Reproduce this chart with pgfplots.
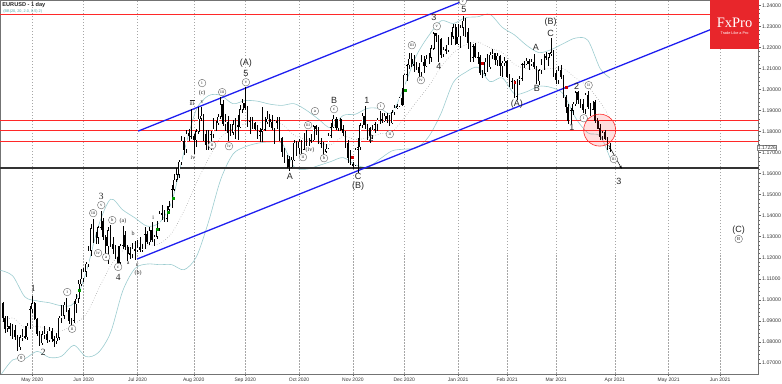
\documentclass[border=0pt]{standalone}
\usepackage{pgfplots}
\pgfplotsset{compat=1.18}
\usepackage{pgfplotstable}
\usetikzlibrary{arrows.meta}
\usepackage{fontspec}
\setmainfont{Liberation Sans}
\newfontfamily\serifA{Liberation Serif}
\definecolor{bandc}{HTML}{9CCCD0}
\definecolor{fxred}{HTML}{E8262B}
\definecolor{chred}{HTML}{FF2828}
\definecolor{chblue}{HTML}{1E1EF0}
\tikzset{
 wl/.style={font=\fontsize{9}{9}\selectfont, inner sep=0pt, text=black!85},
 ws/.style={font=\serifA\fontsize{9.5}{9}\selectfont, inner sep=0pt, text=black!85},
 wsm/.style={font=\serifA\fontsize{6}{6}\selectfont, inner sep=0pt, text=black!85},
 wc/.style={circle, draw=black!60, line width=0.4pt, fill=white, inner sep=0pt, minimum size=7.6pt, font=\serifA\fontsize{4.6}{4}\selectfont, text=black!85},
}
\pgfplotstableread{
d o h l c
-12 1.0985 1.0990 1.0895 1.0913
-11 1.0913 1.0925 1.0840 1.0862
-10 1.0862 1.0925 1.0845 1.0875
-9 1.0875 1.0890 1.0830 1.0862
-8 1.0862 1.0885 1.0815 1.0857
-7 1.0857 1.0880 1.0810 1.0823
-6 1.0823 1.0835 1.0757 1.0775
-5 1.0775 1.0835 1.0760 1.0821
-4 1.0821 1.0860 1.0805 1.0825
-3 1.0825 1.0875 1.0815 1.0823
-2 1.0823 1.0890 1.0810 1.0875
-1 1.0875 1.0973 1.0860 1.0955
0 1.0955 1.1019 1.0935 1.0982
1 1.0982 1.0990 1.0905 1.0909
2 1.0909 1.0915 1.0828 1.0838
3 1.0838 1.0850 1.0782 1.0795
4 1.0795 1.0850 1.0785 1.0835
5 1.0835 1.0875 1.0815 1.0839
6 1.0839 1.0850 1.0795 1.0808
7 1.0808 1.0870 1.0800 1.0852
8 1.0852 1.0865 1.0800 1.0815
9 1.0815 1.0830 1.0775 1.0804
10 1.0804 1.0840 1.0790 1.0820
11 1.0820 1.0925 1.0810 1.0915
12 1.0915 1.0975 1.0890 1.0924
13 1.0924 1.0990 1.0910 1.0975
14 1.0975 1.1008 1.0940 1.0950
15 1.0950 1.0960 1.0885 1.0900
16 1.0900 1.0915 1.0870 1.0900
17 1.0900 1.0995 1.0890 1.0980
18 1.0980 1.1030 1.0935 1.1005
19 1.1005 1.1095 1.0985 1.1075
20 1.1075 1.1145 1.1065 1.1100
21 1.1100 1.1150 1.1085 1.1135
22 1.1135 1.1180 1.1110 1.1170
23 1.1170 1.1255 1.1155 1.1235
24 1.1235 1.1360 1.1210 1.1340
25 1.1340 1.1385 1.1270 1.1290
26 1.1290 1.1320 1.1265 1.1295
27 1.1295 1.1350 1.1265 1.1343
28 1.1343 1.1422 1.1330 1.1375
29 1.1375 1.1390 1.1285 1.1300
30 1.1300 1.1310 1.1200 1.1255
31 1.1255 1.1345 1.1170 1.1330
32 1.1330 1.1355 1.1250 1.1265
33 1.1265 1.1300 1.1220 1.1240
34 1.1240 1.1260 1.1195 1.1205
35 1.1205 1.1255 1.1168 1.1178
36 1.1178 1.1265 1.1170 1.1257
37 1.1257 1.1349 1.1240 1.1308
38 1.1308 1.1325 1.1235 1.1250
39 1.1250 1.1260 1.1185 1.1220
40 1.1220 1.1250 1.1195 1.1218
41 1.1218 1.1270 1.1200 1.1243
42 1.1243 1.1280 1.1190 1.1233
43 1.1233 1.1285 1.1225 1.1250
44 1.1250 1.1300 1.1225 1.1237
45 1.1237 1.1265 1.1225 1.1245
46 1.1245 1.1345 1.1240 1.1310
47 1.1310 1.1325 1.1265 1.1275
48 1.1275 1.1345 1.1260 1.1330
49 1.1330 1.1370 1.1275 1.1285
50 1.1285 1.1310 1.1255 1.1300
51 1.1300 1.1375 1.1290 1.1340
52 1.1340 1.1420 1.1325 1.1410
53 1.1410 1.1452 1.1380 1.1410
54 1.1410 1.1425 1.1370 1.1385
55 1.1385 1.1445 1.1370 1.1428
56 1.1428 1.1470 1.1410 1.1445
57 1.1445 1.1545 1.1435 1.1525
58 1.1525 1.1600 1.1515 1.1570
59 1.1570 1.1625 1.1560 1.1595
60 1.1595 1.1665 1.1580 1.1655
61 1.1655 1.1780 1.1640 1.1755
62 1.1755 1.1775 1.1690 1.1715
63 1.1715 1.1805 1.1700 1.1790
64 1.1790 1.1810 1.1755 1.1780
65 1.1780 1.1908 1.1765 1.1778
66 1.1778 1.1790 1.1695 1.1760
67 1.1760 1.1810 1.1725 1.1800
68 1.1800 1.1915 1.1790 1.1860
69 1.1860 1.1915 1.1850 1.1875
70 1.1875 1.1885 1.1755 1.1785
71 1.1785 1.1805 1.1710 1.1735
72 1.1735 1.1805 1.1710 1.1740
73 1.1740 1.1800 1.1710 1.1785
74 1.1785 1.1865 1.1770 1.1812
75 1.1812 1.1850 1.1800 1.1840
76 1.1840 1.1885 1.1830 1.1870
77 1.1870 1.1966 1.1860 1.1930
78 1.1930 1.1950 1.1825 1.1835
79 1.1835 1.1885 1.1800 1.1845
80 1.1845 1.1875 1.1755 1.1795
81 1.1795 1.1835 1.1780 1.1795
82 1.1795 1.1855 1.1785 1.1835
83 1.1835 1.1865 1.1765 1.1830
84 1.1830 1.1880 1.1760 1.1820
85 1.1820 1.1925 1.1815 1.1905
86 1.1905 1.1955 1.1890 1.1935
87 1.1935 1.2011 1.1900 1.1910
88 1.1910 1.1920 1.1820 1.1850
89 1.1850 1.1870 1.1790 1.1850
90 1.1850 1.1870 1.1810 1.1840
91 1.1840 1.1845 1.1805 1.1815
92 1.1815 1.1830 1.1765 1.1780
93 1.1780 1.1815 1.1750 1.1800
94 1.1800 1.1917 1.1750 1.1810
95 1.1810 1.1870 1.1800 1.1845
96 1.1845 1.1895 1.1835 1.1860
97 1.1860 1.1885 1.1820 1.1845
98 1.1845 1.1880 1.1805 1.1815
99 1.1815 1.1855 1.1740 1.1850
100 1.1850 1.1870 1.1810 1.1840
101 1.1840 1.1870 1.1755 1.1770
102 1.1770 1.1775 1.1680 1.1705
103 1.1705 1.1720 1.1650 1.1660
104 1.1660 1.1690 1.1625 1.1670
105 1.1670 1.1685 1.1612 1.1630
106 1.1630 1.1680 1.1625 1.1665
107 1.1665 1.1760 1.1660 1.1745
108 1.1745 1.1755 1.1685 1.1720
109 1.1720 1.1765 1.1695 1.1750
110 1.1750 1.1760 1.1695 1.1715
111 1.1715 1.1795 1.1710 1.1780
112 1.1780 1.1805 1.1730 1.1735
113 1.1735 1.1770 1.1730 1.1760
114 1.1760 1.1790 1.1745 1.1760
115 1.1760 1.1830 1.1755 1.1825
116 1.1825 1.1830 1.1785 1.1815
117 1.1815 1.1820 1.1740 1.1745
118 1.1745 1.1770 1.1720 1.1745
119 1.1745 1.1750 1.1690 1.1705
120 1.1705 1.1740 1.1700 1.1718
121 1.1718 1.1795 1.1715 1.1780
122 1.1780 1.1840 1.1770 1.1820
123 1.1820 1.1880 1.1815 1.1860
124 1.1860 1.1870 1.1805 1.1815
125 1.1815 1.1860 1.1800 1.1860
126 1.1860 1.1865 1.1800 1.1810
127 1.1810 1.1830 1.1780 1.1795
128 1.1795 1.1800 1.1720 1.1745
129 1.1745 1.1760 1.1650 1.1675
130 1.1675 1.1710 1.1640 1.1645
131 1.1645 1.1655 1.1620 1.1640
132 1.1640 1.1720 1.1635 1.1715
133 1.1715 1.1770 1.1602 1.1725
134 1.1725 1.1840 1.1710 1.1830
135 1.1830 1.1890 1.1815 1.1875
136 1.1875 1.1920 1.1810 1.1830
137 1.1830 1.1835 1.1760 1.1815
138 1.1815 1.1820 1.1745 1.1780
139 1.1780 1.1830 1.1765 1.1810
140 1.1810 1.1845 1.1795 1.1835
141 1.1835 1.1865 1.1800 1.1855
142 1.1855 1.1895 1.1835 1.1860
143 1.1860 1.1890 1.1840 1.1850
144 1.1850 1.1890 1.1845 1.1875
145 1.1875 1.1890 1.1840 1.1860
146 1.1860 1.1880 1.1825 1.1840
147 1.1840 1.1900 1.1835 1.1890
148 1.1890 1.1925 1.1880 1.1915
149 1.1915 1.1930 1.1905 1.1920
150 1.1920 1.1965 1.1915 1.1960
151 1.1960 1.2005 1.1920 1.1925
152 1.1925 1.2075 1.1925 1.2070
153 1.2070 1.2120 1.2040 1.2115
154 1.2115 1.2175 1.2095 1.2145
155 1.2145 1.2175 1.2105 1.2120
156 1.2120 1.2165 1.2085 1.2110
157 1.2110 1.2130 1.2090 1.2105
158 1.2105 1.2125 1.2060 1.2080
159 1.2080 1.2165 1.2060 1.2130
160 1.2130 1.2160 1.2080 1.2110
161 1.2110 1.2165 1.2105 1.2145
162 1.2145 1.2175 1.2120 1.2150
163 1.2150 1.2210 1.2130 1.2195
164 1.2195 1.2273 1.2185 1.2265
165 1.2265 1.2270 1.2225 1.2255
166 1.2255 1.2260 1.2130 1.2240
167 1.2240 1.2245 1.2150 1.2165
168 1.2165 1.2200 1.2155 1.2190
169 1.2190 1.2210 1.2170 1.2185
170 1.2185 1.2250 1.2180 1.2215
171 1.2215 1.2275 1.2210 1.2250
172 1.2250 1.2310 1.2240 1.2295
173 1.2295 1.2310 1.2210 1.2215
174 1.2215 1.2310 1.2210 1.2250
175 1.2250 1.2305 1.2195 1.2295
176 1.2295 1.2349 1.2255 1.2325
177 1.2325 1.2340 1.2250 1.2270
178 1.2270 1.2290 1.2190 1.2220
179 1.2220 1.2225 1.2130 1.2150
180 1.2150 1.2215 1.2130 1.2205
181 1.2205 1.2220 1.2150 1.2155
182 1.2155 1.2180 1.2120 1.2155
183 1.2155 1.2165 1.2070 1.2080
184 1.2080 1.2090 1.2055 1.2075
185 1.2075 1.2150 1.2065 1.2130
186 1.2130 1.2170 1.2085 1.2105
187 1.2105 1.2180 1.2095 1.2165
188 1.2165 1.2190 1.2145 1.2170
189 1.2170 1.2175 1.2115 1.2140
190 1.2140 1.2175 1.2110 1.2160
191 1.2160 1.2165 1.2065 1.2110
192 1.2110 1.2135 1.2060 1.2125
193 1.2125 1.2155 1.2110 1.2135
194 1.2135 1.2140 1.2055 1.2060
195 1.2060 1.2075 1.2010 1.2040
196 1.2040 1.2055 1.2000 1.2040
197 1.2040 1.2045 1.1960 1.1965
198 1.1965 1.2050 1.1952 1.2045
199 1.2045 1.2065 1.2020 1.2050
200 1.2050 1.2125 1.2040 1.2120
201 1.2120 1.2135 1.2100 1.2120
202 1.2120 1.2150 1.2115 1.2135
203 1.2135 1.2145 1.2090 1.2120
204 1.2120 1.2145 1.2110 1.2130
205 1.2130 1.2170 1.2095 1.2105
206 1.2105 1.2110 1.2025 1.2040
207 1.2040 1.2095 1.2020 1.2090
208 1.2090 1.2145 1.2075 1.2120
209 1.2120 1.2170 1.2090 1.2160
210 1.2160 1.2180 1.2140 1.2150
211 1.2150 1.2175 1.2110 1.2170
212 1.2170 1.2243 1.2160 1.2175
213 1.2175 1.2185 1.2060 1.2075
214 1.2075 1.2090 1.2025 1.2045
215 1.2045 1.2110 1.2025 1.2090
216 1.2090 1.2115 1.2050 1.2060
217 1.2060 1.2070 1.1960 1.1965
218 1.1965 1.1975 1.1890 1.1915
219 1.1915 1.1930 1.1835 1.1850
220 1.1850 1.1910 1.1835 1.1900
221 1.1900 1.1940 1.1880 1.1930
222 1.1930 1.1990 1.1920 1.1985
223 1.1985 1.1990 1.1930 1.1950
224 1.1950 1.1955 1.1910 1.1930
225 1.1930 1.1955 1.1890 1.1905
226 1.1905 1.1985 1.1885 1.1975
227 1.1975 1.1990 1.1905 1.1915
228 1.1915 1.1935 1.1875 1.1905
229 1.1905 1.1945 1.1900 1.1940
230 1.1940 1.1950 1.1840 1.1850
231 1.1850 1.1865 1.1810 1.1815
232 1.1815 1.1835 1.1760 1.1775
233 1.1775 1.1800 1.1760 1.1795
234 1.1795 1.1805 1.1760 1.1765
235 1.1765 1.1775 1.1710 1.1720
236 1.1720 1.1745 1.1704 1.1723
}\ohlc
\begin{document}
\begin{tikzpicture}
\begin{axis}[
 scale only axis, width=759pt, height=374pt,
 at={(0pt,0pt)}, anchor=south west,
 xmin=-13.06, xmax=296.7, ymin=1.06479, ymax=1.24237,
 axis line style={black!55, line width=0.5pt},
 xtick={0,21,43,66,87,109,131,152,174,194,214,238,260,281},
 xticklabels={May 2020,Jun 2020,Jul 2020,Aug 2020,Sep 2020,Oct 2020,Nov 2020,Dec 2020,Jan 2021,Feb 2021,Mar 2021,Apr 2021,May 2021,Jun 2021},
 x tick label style={font=\fontsize{5}{5}\selectfont, text=black!80, inner sep=1pt},
 ytick={1.07,1.08,1.09,1.10,1.11,1.12,1.13,1.14,1.15,1.16,1.17,1.18,1.19,1.20,1.21,1.22,1.23,1.24},
 yticklabels={1.07000,1.08000,1.09000,1.10000,1.11000,1.12000,1.13000,1.14000,1.15000,1.16000,1.17000,1.18000,1.19000,1.20000,1.21000,1.22000,1.23000,1.24000},
 yticklabel pos=right, ytick pos=right, xtick pos=bottom,
 y tick label style={font=\fontsize{5.2}{5}\selectfont, text=black!80, inner sep=1pt},
 tick align=outside, major tick length=2.5pt, minor tick length=1.2pt,
 minor y tick num=4,
 tick style={black!60, line width=0.4pt},
 xmajorgrids, grid style={dash pattern=on 1.5pt off 1.5pt, black!35, line width=0.4pt},
 clip=true,
]
% bands
\addplot[bandc, line width=0.6pt, smooth] coordinates {(-13,1.1140)(-8,1.1114)(-3,1.1014)(2,1.0995)(7,1.0986)(12,1.0972)(17,1.0984)(22,1.1130)(27,1.1349)(32,1.1478)(37,1.1427)(42,1.1389)(47,1.1350)(52,1.1367)(57,1.1467)(62,1.1703)(67,1.1903)(72,1.1970)(77,1.1972)(82,1.1932)(87,1.1947)(92,1.1944)(97,1.1930)(102,1.1924)(107,1.1932)(112,1.1901)(117,1.1858)(122,1.1817)(127,1.1876)(132,1.1882)(137,1.1910)(142,1.1909)(147,1.1888)(152,1.2016)(157,1.2162)(162,1.2256)(167,1.2326)(172,1.2313)(177,1.2341)(182,1.2345)(187,1.2357)(192,1.2295)(197,1.2259)(202,1.2209)(207,1.2175)(212,1.2189)(217,1.2218)(222,1.2244)(227,1.2233)(232,1.2099)(236,1.2055)};
\addplot[bandc, line width=0.6pt, smooth] coordinates {(-13,1.0640)(-8,1.0714)(-3,1.0720)(2,1.0755)(7,1.0726)(12,1.0732)(17,1.0784)(22,1.0730)(27,1.0749)(32,1.0844)(37,1.1043)(42,1.1149)(47,1.1170)(52,1.1167)(57,1.1167)(62,1.1143)(67,1.1203)(72,1.1370)(77,1.1572)(82,1.1692)(87,1.1727)(92,1.1744)(97,1.1750)(102,1.1744)(107,1.1632)(112,1.1621)(117,1.1638)(122,1.1657)(127,1.1676)(132,1.1642)(137,1.1630)(142,1.1669)(147,1.1708)(152,1.1716)(157,1.1722)(162,1.1776)(167,1.1886)(172,1.2033)(177,1.2081)(182,1.2105)(187,1.2037)(192,1.2055)(197,1.1979)(202,1.1989)(207,1.2015)(212,1.2009)(217,1.1978)(222,1.1864)(227,1.1793)(232,1.1779)(236,1.1675)};
\addplot[black!45, line width=0.5pt, dotted, smooth] coordinates {(-13,1.0890)(-8,1.0914)(-3,1.0867)(2,1.0875)(7,1.0856)(12,1.0852)(17,1.0884)(22,1.0930)(27,1.1049)(32,1.1161)(37,1.1235)(42,1.1269)(47,1.1260)(52,1.1267)(57,1.1317)(62,1.1423)(67,1.1553)(72,1.1670)(77,1.1772)(82,1.1812)(87,1.1837)(92,1.1844)(97,1.1840)(102,1.1834)(107,1.1782)(112,1.1761)(117,1.1748)(122,1.1737)(127,1.1776)(132,1.1762)(137,1.1770)(142,1.1789)(147,1.1798)(152,1.1866)(157,1.1942)(162,1.2016)(167,1.2106)(172,1.2173)(177,1.2211)(182,1.2225)(187,1.2197)(192,1.2175)(197,1.2119)(202,1.2099)(207,1.2095)(212,1.2099)(217,1.2098)(222,1.2054)(227,1.2013)(232,1.1939)(236,1.1865)};
% horizontal levels
\addplot[chred, line width=1.3pt] coordinates {(-13.06,1.2357)(296.7,1.2357)};
\addplot[chred, line width=1.3pt] coordinates {(-13.06,1.1851)(296.7,1.1851)};
\addplot[chred, line width=1.3pt] coordinates {(-13.06,1.1806)(296.7,1.1806)};
\addplot[chred, line width=1.3pt] coordinates {(-13.06,1.1751)(296.7,1.1751)};
\addplot[black!80, line width=1.3pt] coordinates {(-13.06,1.1626)(296.7,1.1626)};
% channel
\addplot[chblue, line width=1.3pt] coordinates {(43.27,1.18017)(182.9,1.24522)};
\addplot[chblue, line width=1.3pt] coordinates {(42.86,1.11939)(296.7,1.23753)};
% candles: wicks
\addplot[draw=none, mark=none, error bars/.cd, y dir=both, y explicit, error mark=none, error bar style={line width=0.5pt, black}]
 table[x=d, y expr={(\thisrow{h}+\thisrow{l})/2}, y error expr={(\thisrow{h}-\thisrow{l})/2}] {\ohlc};
% bodies
\addplot[draw=none, mark=none, error bars/.cd, y dir=both, y explicit, error mark=none, error bar style={line width=1.7pt, black}]
 table[x=d, y expr={(\thisrow{o}+\thisrow{c})/2}, y error expr={abs(\thisrow{c}-\thisrow{o})/2+0.00008}] {\ohlc};
\addplot[draw=none, mark=none, unbounded coords=discard, error bars/.cd, y dir=both, y explicit, error mark=none, error bar style={line width=0.9pt, white}]
 table[x=d, y expr={\thisrow{c}>\thisrow{o} ? (\thisrow{o}+\thisrow{c})/2 : nan}, y error expr={max((\thisrow{c}-\thisrow{o})/2-0.00018,0)}] {\ohlc};
% signal dots
\addplot[only marks, mark=square*, mark size=1pt, color=green!60!black] coordinates {(19.2,1.1047)(51.0,1.1336)(55.5,1.1417)(57.6,1.1484)(152.2,1.1996)};
\addplot[only marks, mark=square*, mark size=0.9pt, color=red!80!black] coordinates {(130.6,1.1678)(183.7,1.2125)(197.1,1.2034)(218.0,1.2011)};
% red circle and arrow
\draw[chred, line width=0.6pt, fill=chred, fill opacity=0.15] (231.8,1.18065) circle[radius=16pt];
\draw[black, line width=0.5pt, -{Stealth[length=3pt,width=2.5pt]}] (235.5,1.17345) -- (240.8,1.16231);
% wave labels
\node[ws] at (28.2,1.1493) {3};
\node[ws] at (35.1,1.1108) {4};
\node[ws] at (0.4,1.1056) {1};
\node[ws] at (4.5,1.0748) {2};
\node[wsm] at (49.4,1.1393) {i};
\node[wsm] at (41.2,1.1317) {b};
\node[wsm] at (39.2,1.1175) {a};
\node[wsm] at (42.9,1.1165) {c};
\node[wsm] at (37.1,1.1374) {(a)};
\node[wsm] at (43.3,1.1127) {(b)};
\node[wc] at (-4.5,1.0724) {0};
\node[wc] at (14.3,1.1037) {i};
\node[wc] at (16.3,1.0862) {ii};
\node[wc] at (24.9,1.1412) {iii};
\node[wc] at (28.2,1.1450) {v};
\node[wc] at (32.7,1.1379) {b};
\node[wc] at (26.9,1.1222) {iv};
\node[wc] at (30.2,1.1203) {a};
\node[wc] at (35.1,1.1156) {c};
\node[wl] at (87.3,1.2125) {(A)};
\node[wl] at (87.3,1.2077) {5};
\node[wc] at (87.3,1.2034) {v};
\node[wc] at (77.6,1.1987) {iii};
\node[wc] at (69.4,1.2030) {i};
\node[wsm] at (69.4,1.1982) {(c)};
\node[wsm] at (65.3,1.1939) {$\overline{\mbox{iii}}$};
\node[wsm] at (69.4,1.1939) {v};
\node[wc] at (73.5,1.1735) {ii};
\node[wc] at (80.4,1.1730) {iv};
\node[wsm] at (65.7,1.1678) {iv};
\node[wl] at (105.3,1.1588) {A};
\node[wl] at (123.3,1.1949) {B};
\node[wc] at (123.3,1.1906) {c};
\node[wc] at (115.5,1.1897) {a};
\node[wc] at (112.7,1.1830) {iii};
\node[wsm] at (113.5,1.1711) {(iv)};
\node[wc] at (110.6,1.1678) {ii};
\node[wc] at (119.2,1.1673) {b};
\node[wl] at (136.7,1.1949) {1};
\node[wl] at (138.4,1.1768) {2};
\node[wc] at (142.4,1.1920) {i};
\node[wc] at (146.1,1.1787) {ii};
\node[wl] at (133.1,1.1588) {C};
\node[wl] at (133.1,1.1541) {(B)};
\node[wl] at (164.1,1.2343) {3};
\node[wc] at (165.3,1.2300) {v};
\node[wc] at (155.1,1.2210) {iii};
\node[wc] at (158.8,1.2044) {iv};
\node[wl] at (166.1,1.2110) {4};
\node[wl] at (176.3,1.2381) {5};
\node[wc] at (175.9,1.2419) {v};
\node[wl] at (211.8,1.2319) {(B)};
\node[wl] at (211.8,1.2267) {C};
\node[wl] at (205.7,1.2201) {A};
\node[wl] at (206.1,1.2006) {B};
\node[wl] at (198.0,1.1930) {(A)};
\node[wl] at (222.4,1.2015) {2};
\node[wc] at (227.3,1.2020) {ii};
\node[wl] at (220.4,1.1821) {1};
\node[wc] at (225.3,1.1863) {i};
\node[wc] at (237.6,1.1669) {iii};
\node[wl] at (239.6,1.1564) {3};
\node[wl] at (288.6,1.1332) {(C)};
\node[wc] at (288.6,1.1289) {B};
\end{axis}
% logo, title, price tag
\fill[fxred] (710pt,325pt) rectangle (759pt,374pt);
\node[text=white, font=\serifA\fontsize{14.5}{14}\selectfont, inner sep=0pt] at (735pt,351pt) {FxPro};
\node[text=white, font=\fontsize{3.8}{4}\selectfont, inner sep=0pt] at (735pt,341.5pt) {Trade Like a Pro};
\node[anchor=north west, inner sep=0pt, font=\bfseries\fontsize{5.6}{6}\selectfont, text=black!85] at (2pt,372pt) {EURUSD - 1 day};
\node[anchor=north west, inner sep=0pt, font=\fontsize{3.8}{4}\selectfont, text=teal!70] at (3pt,364.5pt) {(BB(20, 20, 2.0, 0.5) 2)};
\node[anchor=west, fill=white, draw=black!50, line width=0.3pt, inner sep=0.7pt, font=\fontsize{5}{5}\selectfont, text=black!80] at (757.5pt,226pt) {1.17226};
\path[use as bounding box] (0pt,-9pt) rectangle (782pt,374pt);
\end{tikzpicture}
\end{document}
